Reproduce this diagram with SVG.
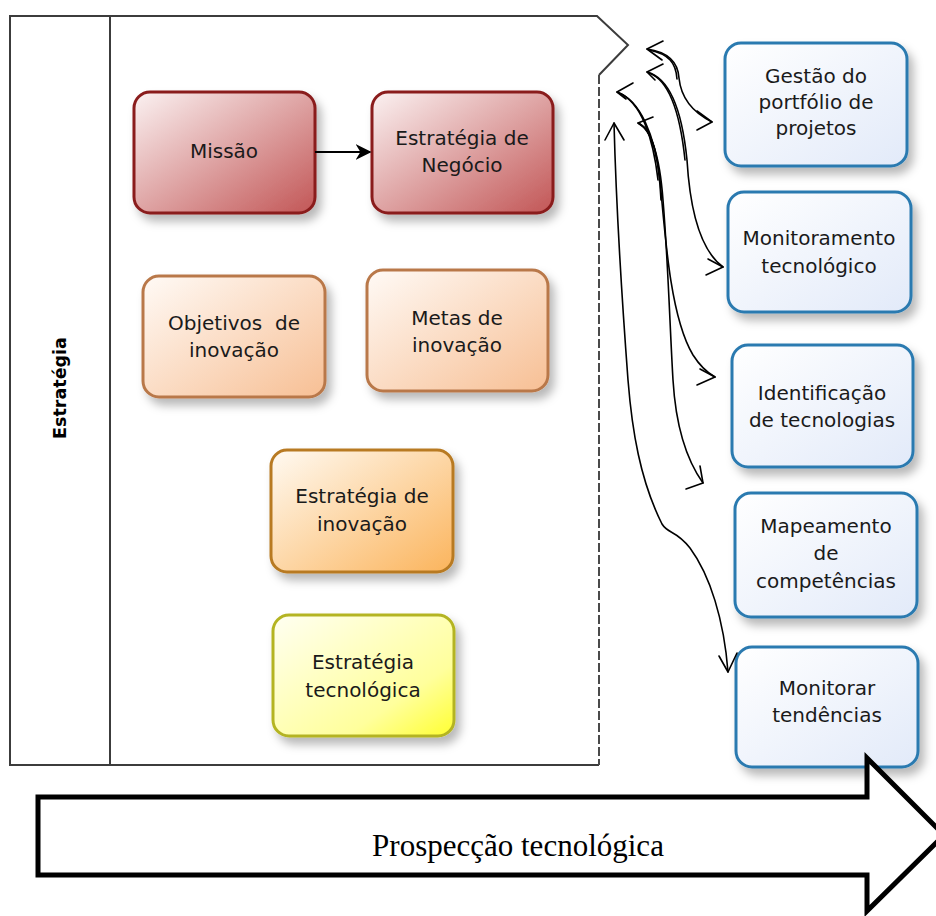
<svg xmlns="http://www.w3.org/2000/svg" width="936" height="916" viewBox="0 0 936 916">
<style>
.t{font-family:"DejaVu Sans","Liberation Sans",sans-serif;font-size:20px;fill:#1a1a1a;text-anchor:middle}
.pool{fill:none;stroke:#3c3c3c;stroke-width:2}
.c{fill:none;stroke:#000;stroke-width:1.6;stroke-linecap:round;stroke-linejoin:round}
</style>
<defs>
<filter id="sh" x="-20%" y="-20%" width="150%" height="160%"><feDropShadow dx="5" dy="7" stdDeviation="5" flood-color="#000" flood-opacity="0.28"/></filter>
<linearGradient id="gr" x1="0" y1="0" x2="1" y2="1"><stop offset="0" stop-color="#fbf2f2"/><stop offset="1" stop-color="#c25656"/></linearGradient>
<linearGradient id="go" x1="0" y1="0" x2="1" y2="1"><stop offset="0" stop-color="#fffaf6"/><stop offset="1" stop-color="#f7bf94"/></linearGradient>
<linearGradient id="gor" x1="0" y1="0" x2="1" y2="1"><stop offset="0" stop-color="#fffaf2"/><stop offset="1" stop-color="#fbb45c"/></linearGradient>
<linearGradient id="gy" x1="0" y1="0" x2="1" y2="1"><stop offset="0" stop-color="#fffff2"/><stop offset="0.7" stop-color="#ffff9c"/><stop offset="1" stop-color="#ffff30"/></linearGradient>
<linearGradient id="gb" x1="0" y1="0" x2="1" y2="1"><stop offset="0" stop-color="#ffffff"/><stop offset="1" stop-color="#e2eaf9"/></linearGradient>
<marker id="ah" viewBox="0 0 10 10" refX="9" refY="5" markerWidth="8" markerHeight="8" orient="auto"><path d="M0,0 L10,5 L0,10 L3,5 Z" fill="#000"/></marker>
</defs>

<g id="pool">
<path class="pool" d="M599,765 H10 V16 H597 L628,45 L599,75"/>
<line class="pool" x1="110" y1="16" x2="110" y2="765"/>
<line x1="599" y1="75" x2="599" y2="765" stroke="#4a4a4a" stroke-width="2" stroke-dasharray="9,3"/>
<text transform="translate(66,388) rotate(-90)" style="font-family:'DejaVu Sans','Liberation Sans',sans-serif;font-size:17.5px;font-weight:bold;text-anchor:middle">Estratégia</text>
</g>

<g id="missao">
<rect x="134" y="92" width="181" height="121" rx="16" fill="url(#gr)" stroke="#8a1c1c" stroke-width="3" filter="url(#sh)"/>
<text class="t" x="224" y="158">Missão</text>
</g>
<g id="negocio">
<rect x="372" y="92" width="181" height="121" rx="16" fill="url(#gr)" stroke="#8a1c1c" stroke-width="3" filter="url(#sh)"/>
<text class="t" x="462" y="145">Estratégia de</text>
<text class="t" x="462" y="172">Negócio</text>
</g>
<g id="objetivos">
<rect x="143" y="276" width="182" height="121" rx="16" fill="url(#go)" stroke="#b9784a" stroke-width="3" filter="url(#sh)"/>
<text class="t" x="234" y="330" xml:space="preserve">Objetivos  de</text>
<text class="t" x="234" y="357">inovação</text>
</g>
<g id="metas">
<rect x="367" y="270" width="181" height="121" rx="16" fill="url(#go)" stroke="#b9784a" stroke-width="3" filter="url(#sh)"/>
<text class="t" x="457" y="325">Metas de</text>
<text class="t" x="457" y="352">inovação</text>
</g>
<g id="estrategia-inovacao">
<rect x="271" y="450" width="182" height="122" rx="16" fill="url(#gor)" stroke="#b87a22" stroke-width="3" filter="url(#sh)"/>
<text class="t" x="362" y="503">Estratégia de</text>
<text class="t" x="362" y="531">inovação</text>
</g>
<g id="estrategia-tecnologica">
<rect x="273" y="615" width="181" height="121" rx="16" fill="url(#gy)" stroke="#b4b424" stroke-width="3" filter="url(#sh)"/>
<text class="t" x="363" y="669">Estratégia</text>
<text class="t" x="363" y="697">tecnológica</text>
</g>

<g id="gestao">
<rect x="725" y="43" width="182" height="123" rx="16" fill="url(#gb)" stroke="#2b7ab0" stroke-width="3" filter="url(#sh)"/>
<text class="t" x="816" y="83">Gestão do</text>
<text class="t" x="816" y="109">portfólio de</text>
<text class="t" x="816" y="135">projetos</text>
</g>
<g id="monitoramento">
<rect x="728" y="192" width="183" height="120" rx="16" fill="url(#gb)" stroke="#2b7ab0" stroke-width="3" filter="url(#sh)"/>
<text class="t" x="819" y="245">Monitoramento</text>
<text class="t" x="819" y="273">tecnológico</text>
</g>
<g id="identificacao">
<rect x="732" y="345" width="181" height="122" rx="16" fill="url(#gb)" stroke="#2b7ab0" stroke-width="3" filter="url(#sh)"/>
<text class="t" x="822" y="400">Identificação</text>
<text class="t" x="822" y="427">de tecnologias</text>
</g>
<g id="mapeamento">
<rect x="735" y="493" width="182" height="124" rx="16" fill="url(#gb)" stroke="#2b7ab0" stroke-width="3" filter="url(#sh)"/>
<text class="t" x="826" y="533">Mapeamento</text>
<text class="t" x="826" y="560">de</text>
<text class="t" x="826" y="588">competências</text>
</g>
<g id="monitorar">
<rect x="736" y="647" width="182" height="120" rx="16" fill="url(#gb)" stroke="#2b7ab0" stroke-width="3" filter="url(#sh)"/>
<text class="t" x="827" y="695">Monitorar</text>
<text class="t" x="827" y="722">tendências</text>
</g>

<g id="connectors">
<line x1="315" y1="152" x2="370" y2="152" stroke="#000" stroke-width="2" marker-end="url(#ah)"/>
<path class="c" d="M647,49 C668,52 678,62 679,78 C681,98 692,112 712,122"/>
<path class="c" d="M649,50 C669,54 676,63 677,79"/>
<path class="c" d="M663,41 L647,49 L662,60"/>
<path class="c" d="M697,111 L712,122 L697,130"/>
<path class="c" d="M647,72 C670,78 682,110 687,160 C690,210 700,250 723,267"/>
<path class="c" d="M649,73 C669,80 680,112 685,160"/>
<path class="c" d="M663,64 L647,72 L655,80"/>
<path class="c" d="M708,259 L723,267 L706,275"/>
<path class="c" d="M617,92 C640,100 655,135 660,180 C666,250 672,320 693,355 C700,366 706,372 715,377"/>
<path class="c" d="M619,93 C641,102 653,137 658,180"/>
<path class="c" d="M633,83 L617,92 L626,99"/>
<path class="c" d="M700,369 L715,377 L697,385"/>
<path class="c" d="M638,123 C652,130 660,160 663,200 C668,260 670,330 673,380 C676,430 688,462 703,483"/>
<path class="c" d="M640,124 C654,132 659,162 661,200"/>
<path class="c" d="M653,117 L638,123 L645,128"/>
<path class="c" d="M700,466 L703,483 L686,489"/>
<path class="c" d="M614,123 C616,200 622,300 628,380 C632,430 640,480 662,524 C668,534 676,530 690,548 C710,575 724,620 728,672"/>
<path class="c" d="M605,140 L614,123 L624,140"/>
<path class="c" d="M719,656 L728,672 L737,653"/>
</g>

<g id="prospeccao">
<path d="M38,797 H867 V758 L944,835 L867,911 V875 H38 Z" fill="#fff" stroke="#000" stroke-width="5" stroke-linejoin="miter"/>
<text x="518" y="856" style="font-family:'Liberation Serif','Times New Roman',serif;font-size:31px;text-anchor:middle;fill:#000">Prospecção tecnológica</text>
</g>
</svg>
